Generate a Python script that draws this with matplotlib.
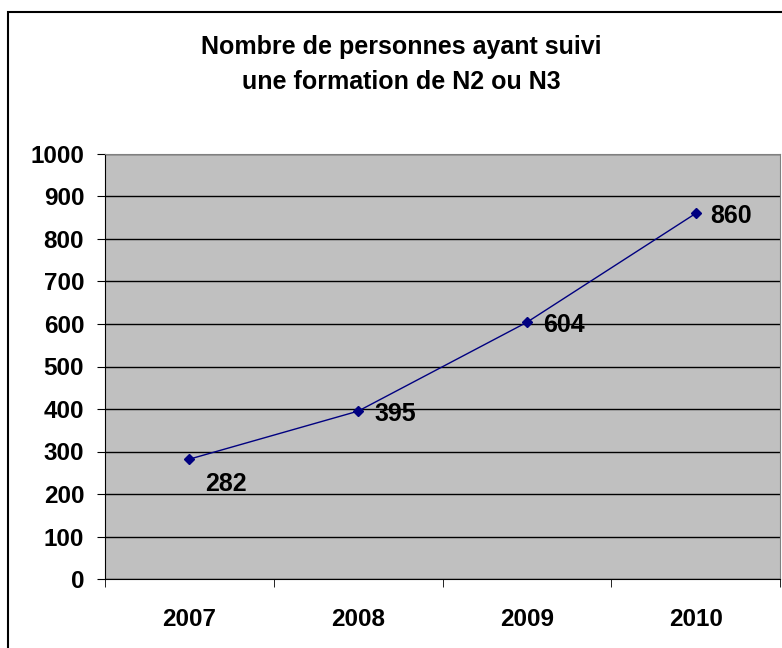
import matplotlib.pyplot as plt
from matplotlib.patches import Rectangle

plt.rcParams['font.family'] = ['Liberation Sans', 'DejaVu Sans']

years = ['2007', '2008', '2009', '2010']
counts = [282, 395, 604, 860]
yticks = [0, 100, 200, 300, 400, 500, 600, 700, 800, 900, 1000]

fig = plt.figure(figsize=(7.82, 6.48), dpi=100)
ax = fig.add_axes([105 / 782, 1 - 579 / 648, 675 / 782, 425 / 648])

# outer chart border (runs off the right and bottom edges)
fig.patches.append(Rectangle((8 / 782, -0.1), 1.2, 1 - 12 / 648 + 0.1,
                             transform=fig.transFigure, fill=False,
                             edgecolor='black', linewidth=1.5))

x = list(range(len(years)))
ax.set_facecolor('#C0C0C0')
ax.plot(x, counts, color='#000080', linewidth=1, marker='D', markersize=5.5,
        zorder=3)

# data labels, the first one sits below its point
offsets = [(16, -25), (16, -3), (16, -3), (15, -3)]
for xi, v, off in zip(x, counts, offsets):
    ax.annotate(str(v), (xi, v), xytext=off, textcoords='offset pixels',
                ha='left', va='center', fontsize=18, fontweight='bold')

ax.set_xlim(-0.5, len(years) - 0.5)
ax.set_ylim(0, 1000)
ax.set_yticks(yticks)
ax.set_yticklabels([str(t) for t in yticks], fontsize=17.5, fontweight='bold')
ax.set_xticks(x)
ax.set_xticklabels(years, fontsize=17.5, fontweight='bold')
ax.tick_params(axis='x', length=0, pad=21)
ax.set_xticks([i - 0.5 for i in range(len(years) + 1)], minor=True)
ax.tick_params(axis='x', which='minor', length=6, direction='out', color='black')
ax.tick_params(axis='y', length=6, direction='out', pad=9)

ax.grid(axis='y', color='black', linewidth=1)
ax.set_axisbelow(True)
ax.spines['top'].set_color('#808080')
ax.spines['right'].set_color('#808080')
ax.spines['left'].set_color('black')
ax.spines['bottom'].set_color('black')

fig.text(401 / 782, 1 - 47 / 648, 'Nombre de personnes ayant suivi',
         ha='center', va='center', fontsize=18, fontweight='bold')
fig.text(401 / 782, 1 - 82 / 648, 'une formation de N2 ou N3',
         ha='center', va='center', fontsize=18, fontweight='bold')

plt.savefig('out.png', dpi=100)
